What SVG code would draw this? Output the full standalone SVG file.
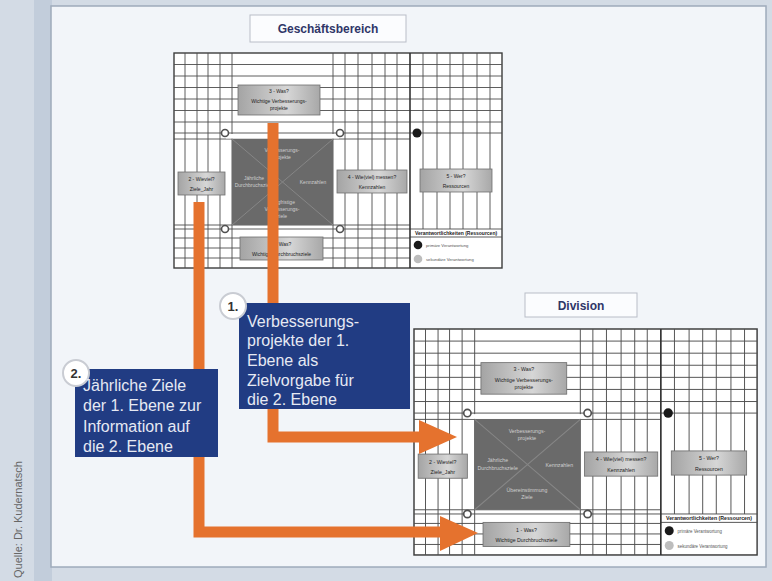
<svg xmlns="http://www.w3.org/2000/svg" width="772" height="581" viewBox="0 0 772 581">
<defs>
<style>
.bg{fill:#d3dbe5}
.panel{fill:#f2f5f9;stroke:#9eabbb;stroke-width:1.5}
.grid{stroke:#4d4d4d;stroke-width:0.9;fill:none}
.frame{fill:#ffffff;stroke:#3d3d3d;stroke-width:1.4}
.thick{stroke:#333;stroke-width:1.6}
.bx{fill:url(#gb);stroke:#6f6f6f;stroke-width:0.8}
.bt{font-family:"Liberation Sans",Arial,sans-serif;font-size:5px;fill:#222;text-anchor:middle}
.ct{font-family:"Liberation Sans",Arial,sans-serif;font-size:5px;fill:#cfcfcf;text-anchor:middle}
.lt{font-family:"Liberation Sans",Arial,sans-serif;font-size:4.2px;fill:#555}
.title{fill:#fbfcfe;stroke:#b9bec8;stroke-width:1}
.tt{font-family:"Liberation Sans",Arial,sans-serif;font-size:12px;font-weight:bold;fill:#2f3668;text-anchor:middle}
.flow{fill:none;stroke:#e5722e;stroke-width:11}
.head{fill:#e5722e}
.note{fill:#213c83}
.nt{font-family:"Liberation Sans",Arial,sans-serif;font-size:16px;fill:#e6e9f3}
.badge{fill:#ffffff;stroke:#c9ccd3;stroke-width:2}
.bdt{font-family:"Liberation Sans",Arial,sans-serif;font-size:13px;font-weight:bold;fill:#333;text-anchor:middle}
.oc{fill:#ffffff;stroke:#505050;stroke-width:1.6}
</style>
<linearGradient id="gb" x1="0" y1="0" x2="1" y2="0">
<stop offset="0" stop-color="#a4a4a4"/>
<stop offset="0.6" stop-color="#d6d6d6"/>
<stop offset="1" stop-color="#a8a8a8"/>
</linearGradient>
<g id="matrixBase">
<rect class="frame" x="0" y="0" width="328" height="215"/>
<path class="grid" d="M11,0V215M23,0V215M34,0V215M46,0V215M58,0V215M159,0V215M171,0V215M184,0V215M198,0V215M211,0V215M223,0V215M249,0V176M263,0V176M276,0V176M289,0V176M303,0V176M316,0V176M0,11.5H328M0,23H328M0,34.5H328M0,46H328M0,57.5H328M0,69H328M0,80H328M0,86H236M0,172H236M0,176H328M0,185H236M0,195H236M0,205H236M236,184H328"/>
<path class="thick" d="M236,0V215"/>
<rect x="58" y="86" width="101" height="86" fill="#6a6a6a"/>
<path d="M58,86L159,172M159,86L58,172" stroke="#868686" stroke-width="1"/>
<rect x="52" y="81" width="113" height="4.5" fill="#ffffff"/>
<circle class="oc" cx="51" cy="80" r="3.5"/>
<circle class="oc" cx="166" cy="80" r="3.5"/>
<circle class="oc" cx="51" cy="176" r="3.5"/>
<circle class="oc" cx="166" cy="176" r="3.5"/>
<circle cx="243" cy="80" r="4.5" fill="#1a1a1a"/>
<rect class="bx" x="64" y="32" width="82" height="30"/>
<rect class="bx" x="4" y="119" width="47" height="23"/>
<rect class="bx" x="163" y="117" width="70" height="23"/>
<rect class="bx" x="246" y="116" width="72" height="23"/>
<rect class="bx" x="66" y="184" width="83" height="23"/>
<rect x="237" y="186" width="90" height="28" fill="#ffffff"/>
<text class="bt" x="105" y="40">3 - Was?</text>
<text class="bt" x="105" y="50">Wichtige Verbesserungs-</text>
<text class="bt" x="105" y="57">projekte</text>
<text class="bt" x="27.5" y="128">2 - Wieviel?</text>
<text class="bt" x="27.5" y="138">Ziele_Jahr</text>
<text class="bt" x="198" y="126">4 - Wie(viel) messen?</text>
<text class="bt" x="198" y="136">Kennzahlen</text>
<text class="bt" x="282" y="125">5 - Wer?</text>
<text class="bt" x="282" y="135">Ressourcen</text>
<text class="bt" x="107.5" y="193">1 - Was?</text>
<text class="bt" x="107.5" y="203">Wichtige Durchbruchsziele</text>
<text class="bt" x="282" y="182" font-weight="bold" font-size="4.3">Verantwortlichkeiten (Ressourcen)</text>
<circle cx="244" cy="192" r="4.3" fill="#1a1a1a"/>
<circle cx="244" cy="206" r="4.3" fill="#bdbdbd"/>
<text class="lt" x="252" y="194">primäre Verantwortung</text>
<text class="lt" x="252" y="208">sekundäre Verantwortung</text>
<text class="ct" x="108" y="99">Verbesserungs-</text>
<text class="ct" x="108" y="106">projekte</text>
<text class="ct" x="80" y="127">Jährliche</text>
<text class="ct" x="80" y="134">Durchbruchsziele</text>
<text class="ct" x="139" y="131">Kennzahlen</text>
</g>
</defs>
<rect class="bg" x="0" y="0" width="772" height="581"/>
<rect x="34" y="0" width="18" height="581" fill="#c2cddb"/>
<rect class="panel" x="51" y="6" width="715" height="561"/>
<text x="22" y="578" transform="rotate(-90 22 578)" font-family="Liberation Sans,Arial,sans-serif" font-size="11" fill="#666">Quelle: Dr. Kudernatsch</text>

<g id="geschaeftsbereich">
<rect class="title" x="250" y="15" width="156" height="27"/>
<text class="tt" x="328" y="33">Geschäftsbereich</text>
<g transform="translate(174,53)">
<use href="#matrixBase"/>
<text class="ct" x="108" y="151">Langfristige</text>
<text class="ct" x="108" y="158">Verbesserungs-</text>
<text class="ct" x="108" y="165">ziele</text>
</g>
</g>

<g id="division">
<rect class="title" x="525" y="293" width="112" height="24"/>
<text class="tt" x="581" y="310">Division</text>
<g transform="translate(414,329) scale(1.046,1.051)">
<use href="#matrixBase"/>
<text class="ct" x="108" y="155">Übereinstimmung</text>
<text class="ct" x="108" y="162">Ziele</text>
</g>
</g>

<g id="connectors">
<path class="flow" d="M273,123V437H425"/>
<polygon class="head" points="419,420 457,437 419,454"/>
<path class="flow" d="M199,202V532H445"/>
<polygon class="head" points="440,516 478,533 440,551"/>
</g>

<g id="note1">
<rect class="note" x="239" y="303" width="171" height="106"/>
<circle class="badge" cx="233" cy="306" r="13"/>
<text class="bdt" x="233" y="311">1.</text>
<text class="nt" x="247" y="327">Verbesserungs-</text>
<text class="nt" x="247" y="346">projekte der 1.</text>
<text class="nt" x="247" y="366">Ebene als</text>
<text class="nt" x="247" y="386">Zielvorgabe für</text>
<text class="nt" x="247" y="405">die 2. Ebene</text>
</g>

<g id="note2">
<rect class="note" x="75" y="369" width="143" height="88"/>
<circle class="badge" cx="76" cy="373" r="13"/>
<text class="bdt" x="76" y="378">2.</text>
<text class="nt" x="83" y="391">Jährliche Ziele</text>
<text class="nt" x="83" y="411">der 1. Ebene zur</text>
<text class="nt" x="83" y="432">Information auf</text>
<text class="nt" x="83" y="452">die 2. Ebene</text>
</g>
</svg>
